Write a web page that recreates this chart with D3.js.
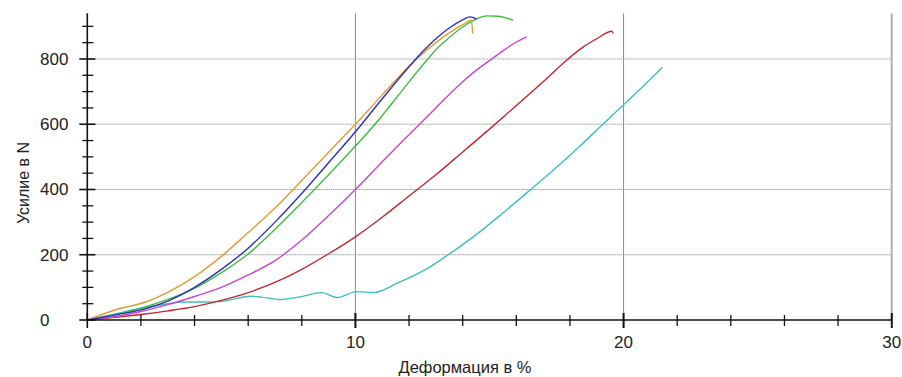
<!DOCTYPE html>
<html>
<head>
<meta charset="utf-8">
<script src="https://cdn.jsdelivr.net/npm/d3@7"></script>
<style>
    body { margin: 0; background: #fff; }
    text { font-family: "Liberation Sans", Arial, sans-serif; fill: #222; }
</style>
</head>
<body>
<div id="chart"></div>
<script>
// curves: [deformation %, force N]
const orange = [[0,0],[1,30],[2.2,56],[3,85],[4,133],[5,195],[6,268],[7,343],[7.68,400],[9,514],[10,600],[11,690],[12,778],[12.5,816],[13,850],[13.5,880],[14,905],[14.33,919],[14.37,878]]
const blue = [[0,0],[1,15],[2,31],[3,58],[4,100],[5,155],[6,220],[7,300],[8.13,400],[9,482],[10,577],[11,678],[12,776],[12.5,822],[13,862],[13.5,895],[14,920],[14.27,929],[14.52,922]]
const green = [[0,0],[1,15],[2,36],[3,63],[4,97],[5,145],[5.95,199],[7,278],[8,360],[9,445],[10,533],[10.73,600],[12,730],[12.7,800],[13,828],[13.5,866],[14,898],[14.5,922],[14.9,932],[15.3,931],[15.88,919]]
const purple = [[0,0],[1,10],[2,26],[3,47],[4,72],[5,100],[6,138],[7,182],[8,245],[9,320],[10,400],[11,485],[12,568],[13,650],[14,730],[14.5,765],[15,795],[15.5,825],[16,852],[16.39,868]]
const red = [[0,0],[1,8],[2,17],[3,28],[4,41],[5,60],[6,84],[7,115],[8,155],[9,203],[10,255],[11,315],[12,380],[13,445],[14,515],[15,585],[16,657],[17,730],[17.93,800],[18.5,837],[19,862],[19.56,885],[19.62,878]]
const cyan = [[0,0],[1,18],[2,36],[3,50],[3.5,55],[4.5,55],[5,57],[6.1,73],[6.5,70],[7.2,63],[7.94,71],[8.75,84],[9.31,69],[10.05,87],[10.67,84],[11.54,112],[12.78,163],[13.46,200],[14.65,271],[15.5,328],[16.51,398],[17.5,468],[18.4,535],[19.2,598],[20,660],[20.8,722],[21.45,774]]

const seriesList = [cyan, red, purple, green, orange, blue]
const seriesColors = ['#3cbfc0', '#c0282e', '#cc44cc', '#3cbf3c', '#e49a36', '#2f2fb5']

const xMajor = [0, 10, 20, 30]
const yMajor = [0, 200, 400, 600, 800]

const width = 902, height = 377

const svg = d3.select('#chart').append('svg')
    .attr('width', width)
    .attr('height', height)

const x = d3.scaleLinear().domain([0, 30]).range([87.3, 891.7])
const y = d3.scaleLinear().domain([0, 940]).range([320, 13.3])

//horizontal dotted grid
svg.append('g')
    .selectAll('line')
    .data(yMajor.filter(d => d > 0))
    .join('line')
    .attr('x1', x(0)).attr('x2', x(30))
    .attr('y1', d => y(d)).attr('y2', d => y(d))
    .attr('stroke', '#7a7a7a')
    .attr('stroke-width', 1)
    .attr('stroke-dasharray', '1,1')

//vertical solid grid
svg.append('g')
    .selectAll('line')
    .data(xMajor.filter(d => d > 0))
    .join('line')
    .attr('x1', d => x(d)).attr('x2', d => x(d))
    .attr('y1', y(940)).attr('y2', y(0))
    .attr('stroke', d => d === 30 ? '#b0b0b0' : '#8c8c8c')
    .attr('stroke-width', d => d === 30 ? 2 : 1)

//curves
const line = d3.line()
    .x(d => x(d[0]))
    .y(d => y(d[1]))
    .curve(d3.curveMonotoneX)

svg.append('g')
    .selectAll('path')
    .data(seriesList)
    .join('path')
    .attr('d', line)
    .attr('fill', 'none')
    .attr('stroke', (_, i) => seriesColors[i])
    .attr('stroke-width', 1.4)

//axes
const axes = svg.append('g').attr('stroke', '#111')
axes.append('line')
    .attr('x1', x(0)).attr('x2', x(0))
    .attr('y1', y(940)).attr('y2', y(0))
    .attr('stroke-width', 1.6)
axes.append('line')
    .attr('x1', x(0)).attr('x2', x(30))
    .attr('y1', y(0)).attr('y2', y(0))
    .attr('stroke-width', 1.6)

//y ticks, minor every 50, major every 200
axes.append('g')
    .selectAll('line')
    .data(d3.range(0, 901, 50))
    .join('line')
    .attr('x1', d => d % 200 === 0 ? x(0) - 8 : x(0) - 5)
    .attr('x2', d => d % 200 === 0 ? x(0) + 8 : x(0) + 6)
    .attr('y1', d => y(d)).attr('y2', d => y(d))
    .attr('stroke-width', d => d % 200 === 0 ? 1.6 : 1.3)

//x ticks, minor every 2, major every 10
axes.append('g')
    .selectAll('line')
    .data(d3.range(0, 31, 2).concat([10, 20, 30]))
    .join('line')
    .attr('x1', d => x(d)).attr('x2', d => x(d))
    .attr('y1', d => d % 10 === 0 ? y(0) - 7 : y(0) - 5)
    .attr('y2', d => d % 10 === 0 ? y(0) + 8 : y(0) + 6)
    .attr('stroke-width', d => d % 10 === 0 ? 1.6 : 1.3)

//tick labels
svg.append('g')
    .selectAll('text')
    .data(yMajor)
    .join('text')
    .attr('x', 40)
    .attr('y', d => y(d) + 6)
    .style('font-size', '17px')
    .text(d => d)

svg.append('g')
    .selectAll('text')
    .data(xMajor)
    .join('text')
    .attr('x', d => x(d))
    .attr('y', 348)
    .attr('text-anchor', 'middle')
    .style('font-size', '17px')
    .text(d => d)

//axis titles
svg.append('text')
    .attr('x', 465)
    .attr('y', 373)
    .attr('text-anchor', 'middle')
    .style('font-size', '16.5px')
    .text('Деформация в %')

svg.append('text')
    .attr('transform', 'translate(29, 183) rotate(-90)')
    .attr('text-anchor', 'middle')
    .style('font-size', '16px')
    .text('Усилие в N')
</script>
</body>
</html>
